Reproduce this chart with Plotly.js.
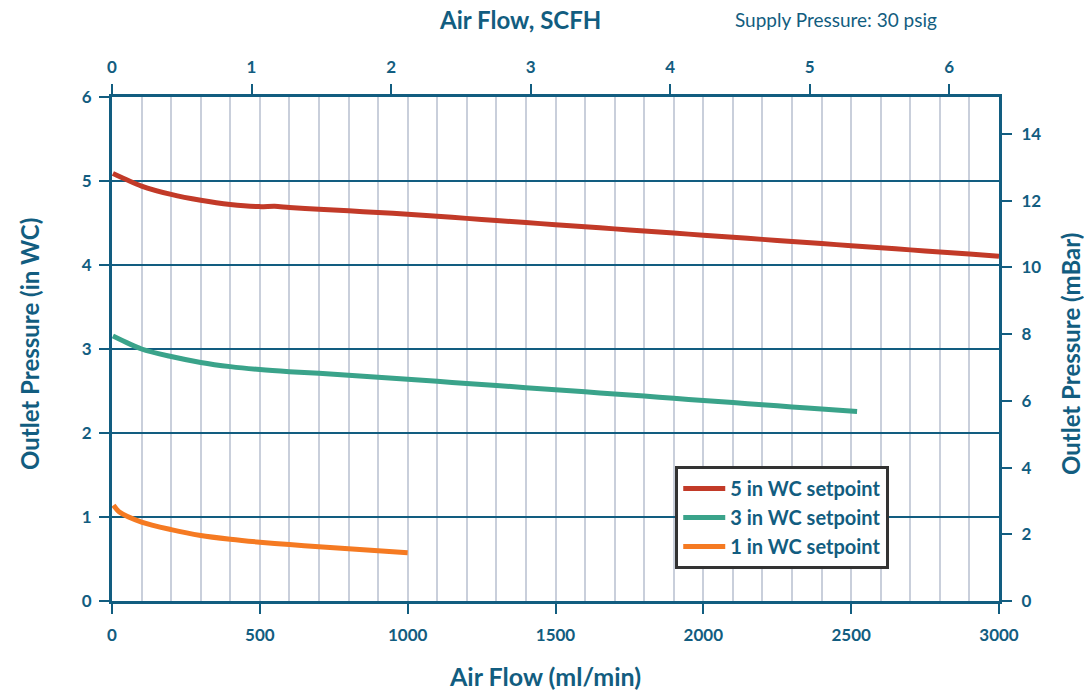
<!DOCTYPE html>
<html>
<head>
<meta charset="utf-8">
<script src="https://cdn.plot.ly/plotly-3.0.1.min.js"></script>
<style>html,body{margin:0;padding:0;background:#fff;}#chart{width:1084px;height:690px;}</style>
</head>
<body>
<div id="chart"></div>
<script>
// Air flow (ml/min) and outlet pressure (in WC) for each setpoint
const flow5 = [3, 100, 200, 300, 400, 500, 550, 600, 700, 800, 900, 1000, 1100, 1200, 1300, 1400, 1500, 1600, 1700, 1800, 1900, 2000, 2100, 2200, 2300, 2400, 2500, 2600, 2700, 2800, 2900, 3000];
const press5 = [5.09, 4.94, 4.84, 4.77, 4.72, 4.695, 4.70, 4.685, 4.665, 4.645, 4.625, 4.605, 4.58, 4.555, 4.53, 4.505, 4.48, 4.455, 4.43, 4.405, 4.38, 4.355, 4.33, 4.305, 4.28, 4.255, 4.23, 4.205, 4.18, 4.155, 4.13, 4.105];

const flow3 = [3, 100, 200, 300, 400, 500, 600, 700, 800, 900, 1000, 1100, 1200, 1300, 1400, 1500, 1600, 1700, 1800, 1900, 2000, 2100, 2200, 2300, 2400, 2520];
const press3 = [3.155, 3.0, 2.91, 2.84, 2.79, 2.755, 2.73, 2.71, 2.688, 2.665, 2.64, 2.615, 2.59, 2.565, 2.54, 2.515, 2.49, 2.465, 2.44, 2.413, 2.387, 2.362, 2.337, 2.31, 2.285, 2.255];

const flow1 = [5, 25, 100, 200, 300, 400, 500, 600, 700, 800, 900, 1000];
const press1 = [1.14, 1.06, 0.94, 0.85, 0.78, 0.735, 0.70, 0.672, 0.646, 0.622, 0.598, 0.575];

const seriesNames = ['5 in WC setpoint', '3 in WC setpoint', '1 in WC setpoint'];
const bottomTicks = [0, 500, 1000, 1500, 2000, 2500, 3000];
const leftTicks = [0, 1, 2, 3, 4, 5, 6];
const rightTicks = [0, 2, 4, 6, 8, 10, 12, 14];
const topTicks = [0, 1, 2, 3, 4, 5, 6];

// conversions
const ML_PER_SCFH = 471.95;
const MBAR_PER_INWC = 2.518;

const NAVY = '#125d80';
const FONT = 'Lato, "Open Sans", sans-serif';
const colors = ['#c23a28', '#3aa38a', '#f57a22'];

const xMax = 3000, yMax = 6;

const traces = [
  {x: flow5, y: press5, name: seriesNames[0]},
  {x: flow3, y: press3, name: seriesNames[1]},
  {x: flow1, y: press1, name: seriesNames[2]}
].map((t, i) => Object.assign(t, {
  type: 'scatter', mode: 'lines', xaxis: 'x', yaxis: 'y',
  line: {color: colors[i], width: 5, shape: 'spline', smoothing: 0.8},
  hoverinfo: 'x+y'
}));

// helper trace to carry the secondary axes
traces.push({x: [null], y: [null], xaxis: 'x2', yaxis: 'y2', type: 'scatter', mode: 'lines', showlegend: false, hoverinfo: 'skip'});

const tickFont = {family: FONT, size: 17, color: NAVY, weight: 'bold'};

const layout = {
  width: 1084, height: 690,
  margin: {l: 112, r: 85, t: 97, b: 89},
  paper_bgcolor: '#fff', plot_bgcolor: '#fff',
  showlegend: true,
  font: {family: FONT, color: NAVY},
  xaxis: {
    range: [0, xMax], tickvals: bottomTicks, ticktext: bottomTicks.map(String),
    ticks: 'outside', ticklen: 10, tickwidth: 2, tickcolor: NAVY,
    showline: true, linecolor: NAVY, linewidth: 3,
    showgrid: true, gridcolor: '#c9cfdb', gridwidth: 2,
    minor: {dtick: 100, showgrid: true, gridcolor: '#c9cfdb', gridwidth: 2, ticks: ''},
    zeroline: false, tickfont: tickFont, ticklabelstandoff: 7
  },
  yaxis: {
    range: [0, yMax], tickvals: leftTicks, ticktext: leftTicks.map(String),
    ticks: 'outside', ticklen: 10, tickwidth: 2, tickcolor: NAVY,
    showline: true, linecolor: NAVY, linewidth: 3,
    showgrid: true, gridcolor: NAVY, gridwidth: 2,
    zeroline: false, tickfont: tickFont, ticklabelstandoff: 4
  },
  xaxis2: {
    overlaying: 'x', side: 'top', range: [0, xMax / ML_PER_SCFH],
    tickvals: topTicks, ticktext: topTicks.map(String),
    ticks: 'outside', ticklen: 10, tickwidth: 2, tickcolor: NAVY,
    showline: true, linecolor: NAVY, linewidth: 3,
    showgrid: false, zeroline: false, tickfont: tickFont, ticklabelstandoff: 4
  },
  yaxis2: {
    overlaying: 'y', side: 'right', range: [0, yMax * MBAR_PER_INWC],
    tickvals: rightTicks, ticktext: rightTicks.map(String),
    ticks: 'outside', ticklen: 10, tickwidth: 2, tickcolor: NAVY,
    showline: true, linecolor: NAVY, linewidth: 3,
    showgrid: false, zeroline: false, tickfont: tickFont, ticklabelstandoff: 6
  },
  legend: {
    x: 0.635, y: 0.268, xanchor: 'left', yanchor: 'top',
    bgcolor: '#fff', bordercolor: '#333', borderwidth: 3,
    font: {family: FONT, size: 20, color: NAVY, weight: 'bold'},
    itemwidth: 42, tracegroupgap: 0
  },
  annotations: [
    {text: 'Air Flow, SCFH', xref: 'paper', yref: 'paper', x: 0.46, y: 1.154, xanchor: 'center', yanchor: 'middle', showarrow: false,
      font: {family: FONT, size: 24, color: NAVY, weight: 'bold'}},
    {text: 'Supply Pressure: 30 psig', xref: 'paper', yref: 'paper', x: 0.816, y: 1.154, xanchor: 'center', yanchor: 'middle', showarrow: false,
      font: {family: FONT, size: 19, color: NAVY}},
    {text: 'Air Flow (ml/min)', xref: 'paper', yref: 'paper', x: 0.488, y: -0.148, xanchor: 'center', yanchor: 'middle', showarrow: false,
      font: {family: FONT, size: 25, color: NAVY, weight: 'bold'}},
    {text: 'Outlet Pressure (in WC)', xref: 'paper', yref: 'paper', x: -0.0924, y: 0.51, xanchor: 'center', yanchor: 'middle', showarrow: false, textangle: -90,
      font: {family: FONT, size: 24, color: NAVY, weight: 'bold'}},
    {text: 'Outlet Pressure (mBar)', xref: 'paper', yref: 'paper', x: 1.08, y: 0.49, xanchor: 'center', yanchor: 'middle', showarrow: false, textangle: -90,
      font: {family: FONT, size: 24, color: NAVY, weight: 'bold'}}
  ]
};

Plotly.newPlot('chart', traces, layout, {displayModeBar: false, staticPlot: true});
</script>
</body>
</html>
